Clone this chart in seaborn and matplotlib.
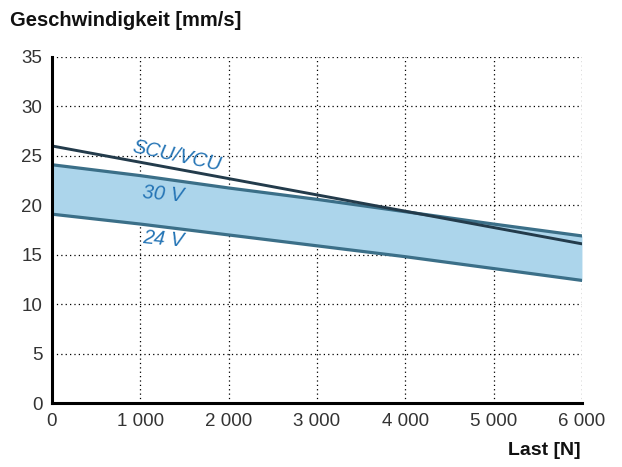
import numpy as np
import pandas as pd
import matplotlib
matplotlib.use("Agg")
import matplotlib.pyplot as plt
import seaborn as sns

# Daten
last = [0, 1000, 2000, 3000, 4000, 5000, 6000]
v_scu = [26.0, 24.35, 22.7, 21.05, 19.4, 17.75, 16.1]
v_30v = [24.1, 23.0, 21.75, 20.6, 19.35, 18.1, 16.9]
v_24v = [19.1, 18.1, 17.0, 15.9, 14.8, 13.6, 12.4]
x_ticks = [0, 1000, 2000, 3000, 4000, 5000, 6000]
x_labels = ["0", "1 000", "2 000", "3 000", "4 000", "5 000", "6 000"]
y_ticks = [0, 5, 10, 15, 20, 25, 30, 35]

df = pd.DataFrame({"Last": last, "SCU/VCU": v_scu, "30 V": v_30v, "24 V": v_24v})

sns.set_style("white")
plt.rcParams["font.family"] = ["Liberation Sans", "DejaVu Sans"]

fig = plt.figure(figsize=(6.22, 4.67), dpi=100)
ax = fig.add_axes([0.0836, 0.137, 0.852, 0.741])

# Band zwischen 24 V und 30 V
ax.fill_between(df["Last"], df["24 V"], df["30 V"], color="#acd5eb", lw=0, zorder=1)
sns.lineplot(data=df, x="Last", y="30 V", ax=ax, color="#3b6f88", lw=2.3, zorder=3)
sns.lineplot(data=df, x="Last", y="24 V", ax=ax, color="#3b6f88", lw=2.3, zorder=3)
sns.lineplot(data=df, x="Last", y="SCU/VCU", ax=ax, color="#233b4b", lw=2.1, zorder=4)

# Beschriftungen
ax.text(1410, 25.0, "SCU/VCU", color="#2474b5", fontsize=14.5, style="italic",
        rotation=-12, ha="center", va="center", zorder=5)
ax.text(1260, 21.1, "30 V", color="#2474b5", fontsize=14.5, style="italic",
        rotation=-5, ha="center", va="center", zorder=5)
ax.text(1260, 16.6, "24 V", color="#2474b5", fontsize=14.5, style="italic",
        rotation=-5, ha="center", va="center", zorder=5)

ax.set_xlim(0, 6000)
ax.set_ylim(0, 35)
ax.set_xticks(x_ticks)
ax.set_xticklabels(x_labels)
ax.set_yticks(y_ticks)
ax.tick_params(axis="both", labelsize=13.5, length=0, pad=7, labelcolor="#333333")
ax.grid(True, color="black", linestyle=(0, (1, 2.5)), lw=0.9, zorder=0)
ax.set_axisbelow(True)
ax.set_xlabel("")
ax.set_ylabel("")

for s in ["top", "right"]:
    ax.spines[s].set_visible(False)
for s in ["left", "bottom"]:
    ax.spines[s].set_color("black")
    ax.spines[s].set_linewidth(2.2)
    ax.spines[s].set_zorder(6)

fig.text(0.016, 0.957, "Geschwindigkeit [mm/s]", fontsize=14.5, fontweight="bold",
         color="#111111", ha="left", va="center")
fig.text(0.933, 0.036, "Last [N]", fontsize=14, fontweight="bold",
         color="#111111", ha="right", va="center")

fig.savefig("out.png", dpi=100)
